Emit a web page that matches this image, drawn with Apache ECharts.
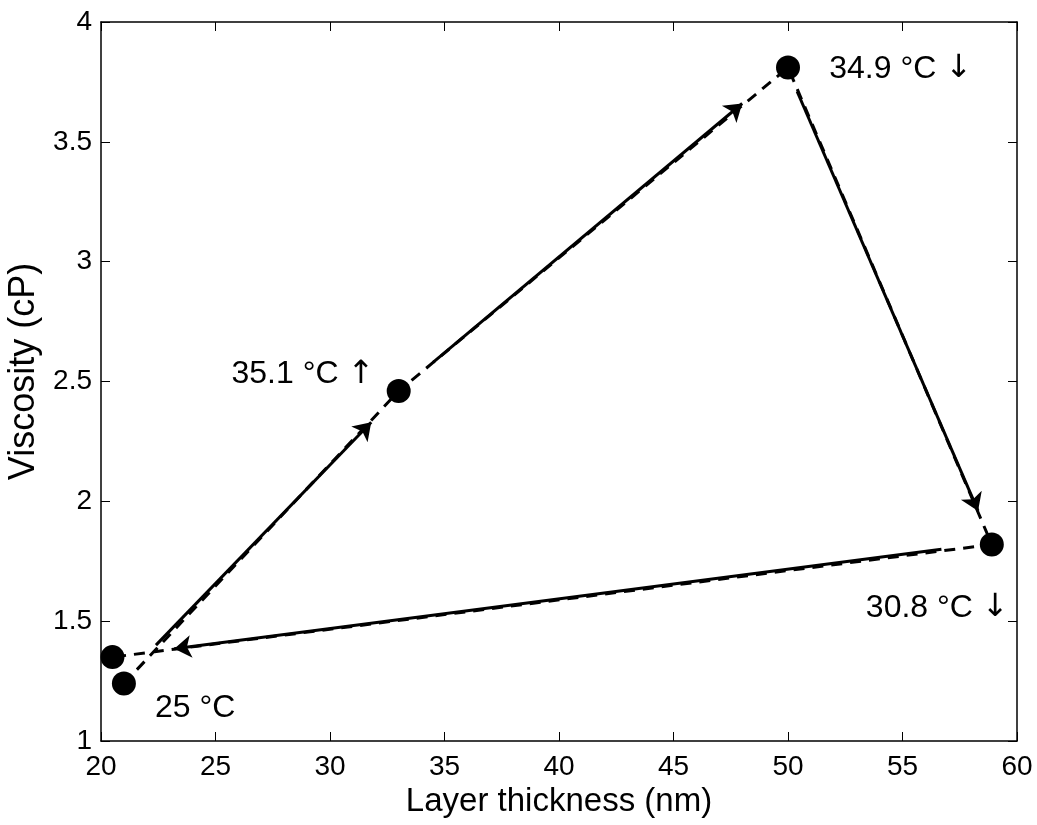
<!DOCTYPE html>
<html>
<head>
<meta charset="utf-8">
<script src="https://cdn.jsdelivr.net/npm/echarts@6/dist/echarts.min.js"></script>
<style>
  html, body { margin: 0; padding: 0; background: #fff; }
  #chart { width: 1037px; height: 825px; }
</style>
</head>
<body>
<div id="chart"></div>
<script>
// measured points (layer thickness nm, viscosity cP), in cycle order
const thickness = [21, 33, 50, 58.9, 20.5];
const viscosity = [1.24, 2.46, 3.81, 1.82, 1.35];

// solid arrows overlaid on the dashed path: [start, end]
const arrowStarts = [[22.4, 1.40], [34.5, 2.58], [50.4, 3.71], [56.7, 1.80]];
const arrowEnds = [[31.8, 2.33], [48.0, 3.66], [58.3, 1.96], [23.2, 1.385]];

// temperature annotations and where they sit
const tempLabels = ['25 \u00B0C', '35.1 \u00B0C {a|\u2191}', '34.9 \u00B0C {a|\u2193}', '30.8 \u00B0C {a|\u2193}'];
const tempLabelPos = [[22.36, 1.137], [25.7, 2.53], [51.8, 3.805], [53.4, 1.555]];

const xTicks = [20, 60, 5];
const yTicks = [1, 4, 0.5];

const font = 'Liberation Sans, Arial, Helvetica, sans-serif';

const chart = echarts.init(document.getElementById('chart'));

const axisCommon = {
  axisLine: { show: true, onZero: false, lineStyle: { color: '#000', width: 1.5 } },
  axisTick: { show: true, inside: true, length: 9, lineStyle: { color: '#000', width: 1 } },
  splitLine: { show: false }
};

chart.setOption({
  animation: false,
  grid: { left: 101, top: 22, right: 20, bottom: 84, containLabel: false, outerBoundsMode: 'none' },
  xAxis: [
    Object.assign({
      type: 'value', min: xTicks[0], max: xTicks[1], interval: xTicks[2],
      name: 'Layer thickness (nm)', nameLocation: 'middle', nameGap: 44,
      nameTextStyle: { fontFamily: font, fontSize: 33, color: '#000' },
      axisLabel: { fontFamily: font, fontSize: 28, color: '#000', margin: 12 }
    }, axisCommon),
    Object.assign({
      type: 'value', position: 'top', min: xTicks[0], max: xTicks[1], interval: xTicks[2],
      axisLabel: { show: false }
    }, axisCommon)
  ],
  yAxis: [
    Object.assign({
      type: 'value', min: yTicks[0], max: yTicks[1], interval: yTicks[2],
      name: 'Viscosity (cP)', nameLocation: 'middle', nameGap: 56,
      nameTextStyle: { fontFamily: font, fontSize: 36, color: '#000', padding: [0, 0, 0, 20] },
      axisLabel: { fontFamily: font, fontSize: 28, color: '#000', margin: 9 }
    }, axisCommon),
    Object.assign({
      type: 'value', position: 'right', min: yTicks[0], max: yTicks[1], interval: yTicks[2],
      axisLabel: { show: false }
    }, axisCommon)
  ],
  series: [
    {
      type: 'line',
      data: thickness.map((x, i) => [x, viscosity[i]]),
      showSymbol: false,
      lineStyle: { color: '#000', width: 3, type: [11, 8] },
      z: 2
    },
    {
      type: 'lines',
      coordinateSystem: 'cartesian2d',
      data: arrowStarts.map((s, i) => ({ coords: [s, arrowEnds[i]] })),
      symbol: ['none', 'arrow'],
      symbolSize: [0, 17],
      lineStyle: { color: '#000', width: 3, opacity: 1 },
      z: 3
    },
    {
      type: 'scatter',
      data: thickness.map((x, i) => [x, viscosity[i]]),
      symbol: 'circle',
      symbolSize: 24,
      itemStyle: { color: '#000', opacity: 1 },
      z: 4
    },
    {
      type: 'scatter',
      data: tempLabelPos.map((p, i) => ({ value: p, name: tempLabels[i] })),
      symbolSize: 1,
      itemStyle: { color: 'rgba(0,0,0,0)', opacity: 1 },
      label: {
        show: true, position: 'inside', align: 'left', verticalAlign: 'middle',
        formatter: p => p.name,
        fontFamily: font, fontSize: 32, color: '#000',
        rich: { a: { fontFamily: 'DejaVu Sans', fontSize: 32, color: '#000' } }
      },
      z: 5
    }
  ]
});
</script>
</body>
</html>
